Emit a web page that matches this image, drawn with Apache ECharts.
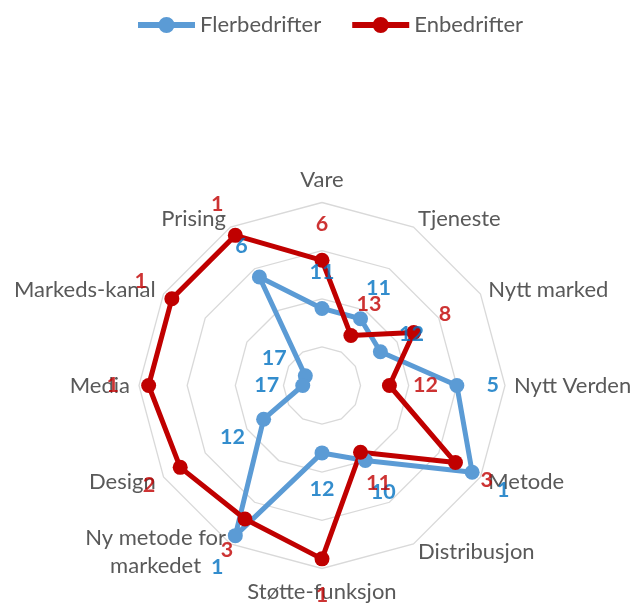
<!DOCTYPE html>
<html><head><meta charset="utf-8">
<script src="https://cdn.jsdelivr.net/npm/echarts@6/dist/echarts.min.js"></script>
<style>html,body{margin:0;padding:0;background:#fff}#c{width:633px;height:605px}</style>
</head><body><div id="c"></div>
<script>
// Categories in radar order (counter-clockwise starting at the top)
const categories = ['Vare', 'Prising', 'Markeds-kanal', 'Media', 'Design', 'Ny metode for\nmarkedet',
  'Støtte-funksjon', 'Distribusjon', 'Metode', 'Nytt Verden', 'Nytt marked', 'Tjeneste'];
const seriesNames = ['Flerbedrifter', 'Enbedrifter'];
// Ranks (1 = best, drawn at the outside)
const flerbedrifter = [11, 6, 17, 17, 12, 1, 12, 10, 1, 5, 12, 11];
const enbedrifter = [6, 1, 1, 1, 2, 3, 1, 11, 3, 12, 8, 13];
// Rank scale: rank 0 at the outer ring, rank 19 at the centre
const rankOuter = 0;
const rankCentre = 19;

const FONT = 'Lato';
const CENTER = [322, 385.5];
const RADIUS = 183;
const BLUE = '#5B9BD5', RED = '#C00000';
const BLUE_LBL = '#0070C0', RED_LBL = '#C00000';
const LABEL_DIST = 36;

const chart = echarts.init(document.getElementById('c'));

function radarSeries(name, ranks, color) {
  return {
    type: 'radar', name: name,
    symbol: 'circle', symbolSize: 15,
    lineStyle: { color: color, width: 5 },
    itemStyle: { color: color },
    data: [{ name: name, value: ranks.map(r => -r) }]
  };
}
function labelSeries(name, ranks, color) {
  const n = categories.length;
  return {
    type: 'scatter', coordinateSystem: 'polar', name: name, silent: true, z: 5,
    symbolSize: 1, itemStyle: { color: 'rgba(0,0,0,0)' },
    label: { show: true, position: 'inside', color: color, fontFamily: FONT, fontWeight: 'bold', fontSize: 21.5,
      formatter: p => String(-p.value[0]) },
    data: ranks.map((r, i) => {
      const a = (90 + 360 * i / n) * Math.PI / 180;
      return { value: [-r, i], label: { offset: [LABEL_DIST * Math.cos(a), -LABEL_DIST * Math.sin(a)] } };
    })
  };
}

const ringColors = ['rgba(0,0,0,0)', 'rgba(0,0,0,0)', 'rgba(0,0,0,0)', 'rgba(0,0,0,0)', '#D9D9D9'];

chart.setOption({
  animation: false,
  backgroundColor: '#fff',
  legend: {
    data: seriesNames, top: 9, left: 133,
    itemWidth: 57, itemHeight: 16, itemGap: 31,
    icon: 'path://M0,5H57V11H0Z M20.5,8A8,8 0 1,1 36.5,8A8,8 0 1,1 20.5,8Z',
    textStyle: { color: '#595959', fontSize: 22, fontFamily: FONT }
  },
  radar: {
    center: CENTER, radius: RADIUS, startAngle: 90,
    splitNumber: rankCentre - rankOuter,
    indicator: categories.map(c => ({ name: c, min: -rankCentre, max: -rankOuter })),
    axisName: {
      color: '#595959', fontSize: 22, fontFamily: FONT,
      formatter: name => name.split('\n').map(s => '{c|' + s + '}').join('\n'),
      rich: { c: { color: '#595959', fontSize: 22, fontFamily: FONT, align: 'center', lineHeight: 28 } }
    },
    nameGap: 9,
    axisLine: { show: false }, axisTick: { show: false }, axisLabel: { show: false },
    splitArea: { show: false },
    splitLine: { show: true, lineStyle: { color: ringColors, width: 1.3 } }
  },
  polar: { center: CENTER, radius: RADIUS },
  angleAxis: { type: 'category', data: categories, startAngle: 90, clockwise: false, boundaryGap: false, show: false },
  radiusAxis: { type: 'value', min: -rankCentre, max: -rankOuter, show: false },
  series: [
    radarSeries(seriesNames[0], flerbedrifter, BLUE),
    radarSeries(seriesNames[1], enbedrifter, RED),
    labelSeries('lbl1', flerbedrifter, BLUE_LBL),
    labelSeries('lbl2', enbedrifter, RED_LBL)
  ]
});
</script></body></html>
